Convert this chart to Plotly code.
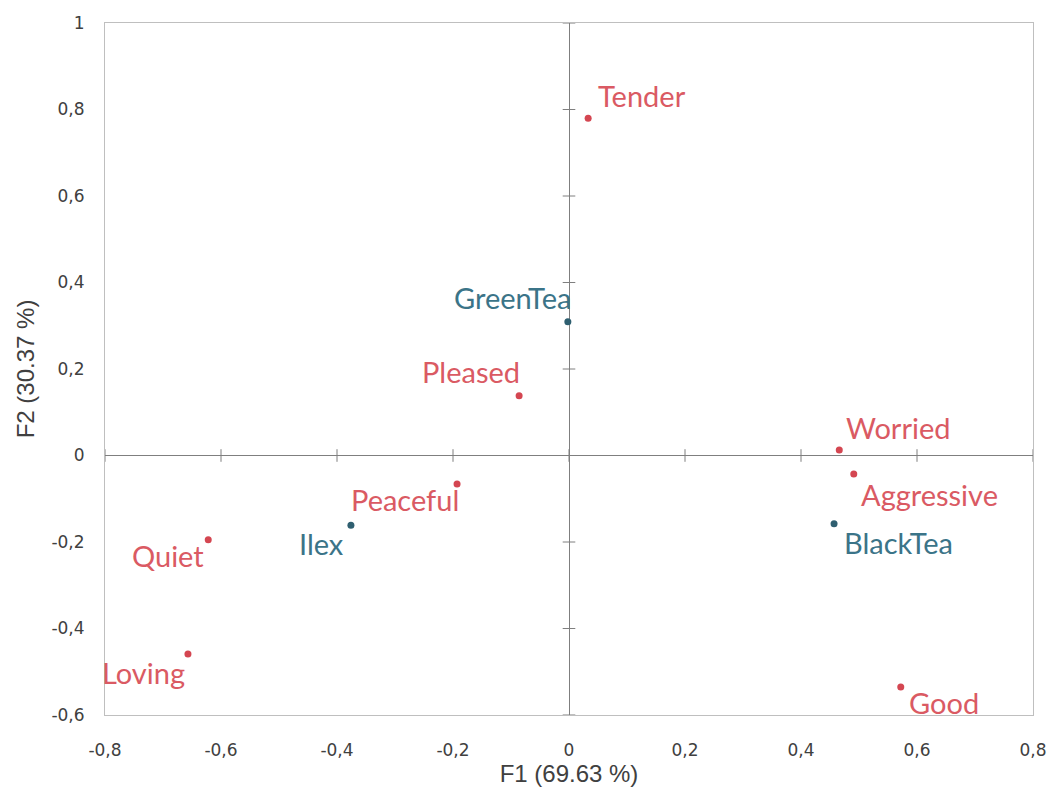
import plotly.graph_objects as go

# Data
var_names = ["Tender", "Pleased", "Worried", "Aggressive", "Peaceful", "Quiet", "Loving", "Good"]
var_f1 = [0.033, -0.086, 0.466, 0.491, -0.193, -0.622, -0.657, 0.572]
var_f2 = [0.780, 0.138, 0.013, -0.043, -0.066, -0.195, -0.459, -0.535]

obs_names = ["GreenTea", "BlackTea", "Ilex"]
obs_f1 = [-0.002, 0.457, -0.376]
obs_f2 = [0.309, -0.158, -0.161]

x_ticks = [-0.8, -0.6, -0.4, -0.2, 0, 0.2, 0.4, 0.6, 0.8]
x_tick_labels = ["-0,8", "-0,6", "-0,4", "-0,2", "0", "0,2", "0,4", "0,6", "0,8"]
y_ticks = [-0.6, -0.4, -0.2, 0, 0.2, 0.4, 0.6, 0.8, 1]
y_tick_labels = ["-0,6", "-0,4", "-0,2", "0", "0,2", "0,4", "0,6", "0,8", "1"]

# Label placement (style): anchor side, pixel shift x, pixel shift y
label_style = {
    "Tender": ("left", 8, 23), "GreenTea": ("right", 5, 24), "Pleased": ("right", 3, 24),
    "Worried": ("left", 5, 22), "Aggressive": ("left", 5, -20), "BlackTea": ("left", 8, -19),
    "Peaceful": ("right", 4, -15), "Ilex": ("right", -5, -18), "Quiet": ("right", -2, -16),
    "Loving": ("right", -1, -18), "Good": ("left", 6, -16),
}

RED_DOT = "#D44651"
RED_TXT = "#DA5A63"
BLUE_DOT = "#2F5F70"
BLUE_TXT = "#3B7488"
AXIS_C = "#7F7F7F"
FRAME_C = "#BFBFBF"
TXT_C = "#404040"
LABEL_FONT = "Lato"
LABEL_SIZE = 29

fig = go.Figure()

# Cross tick marks on the zero axes
fig.add_trace(go.Scatter(
    x=[0] * len(y_ticks), y=y_ticks, mode="markers",
    marker=dict(symbol="line-ew", size=9, line=dict(color=AXIS_C, width=1)),
    hoverinfo="skip", showlegend=False))
fig.add_trace(go.Scatter(
    x=x_ticks, y=[0] * len(x_ticks), mode="markers",
    marker=dict(symbol="line-ns", size=9, line=dict(color=AXIS_C, width=1)),
    hoverinfo="skip", showlegend=False))

fig.add_trace(go.Scatter(
    x=var_f1, y=var_f2, mode="markers", text=var_names,
    marker=dict(size=7, color=RED_DOT), showlegend=False))
fig.add_trace(go.Scatter(
    x=obs_f1, y=obs_f2, mode="markers", text=obs_names,
    marker=dict(size=7, color=BLUE_DOT), showlegend=False))

annotations = []
for names, xs, ys, col in ((var_names, var_f1, var_f2, RED_TXT), (obs_names, obs_f1, obs_f2, BLUE_TXT)):
    for n, xv, yv in zip(names, xs, ys):
        side, dx, dy = label_style[n]
        annotations.append(dict(
            x=xv, y=yv, xref="x", yref="y", text=n, showarrow=False,
            xanchor=side, yanchor="middle", xshift=dx, yshift=dy,
            font=dict(family=LABEL_FONT, size=LABEL_SIZE, color=col)))

fig.update_layout(
    width=1048, height=796,
    margin=dict(l=105, r=15, t=23, b=81),
    paper_bgcolor="white", plot_bgcolor="white",
    font=dict(family="DejaVu Sans", size=17, color=TXT_C),
    annotations=annotations,
    xaxis=dict(
        range=[-0.8, 0.8], tickvals=x_ticks, ticktext=x_tick_labels,
        showgrid=False, zeroline=True, zerolinecolor=AXIS_C, zerolinewidth=1,
        showline=True, linecolor=FRAME_C, linewidth=1, mirror=True,
        ticks="", ticklabelstandoff=20, automargin=False,
        tickfont=dict(family="DejaVu Sans", size=17, color=TXT_C),
        title=dict(text="F1 (69.63 %)", font=dict(family="Liberation Sans", size=24, color=TXT_C),
                   standoff=4),
    ),
    yaxis=dict(
        range=[-0.6, 1.0], tickvals=y_ticks, ticktext=y_tick_labels,
        showgrid=False, zeroline=True, zerolinecolor=AXIS_C, zerolinewidth=1,
        showline=True, linecolor=FRAME_C, linewidth=1, mirror=True,
        ticks="", ticklabelstandoff=16, automargin=False,
        tickfont=dict(family="DejaVu Sans", size=17, color=TXT_C),
        title=dict(text="F2 (30.37 %)", font=dict(family="Liberation Sans", size=24, color=TXT_C),
                   standoff=10),
    ),
)

fig.write_html("out.html")
